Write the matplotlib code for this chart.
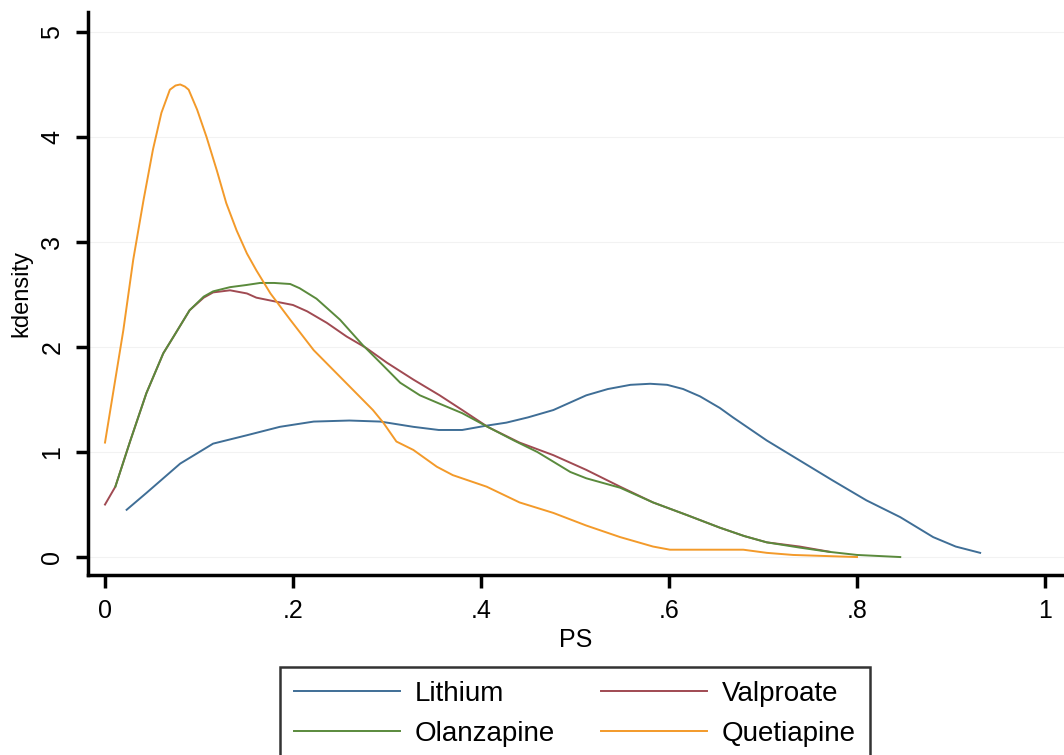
import matplotlib.pyplot as plt

plt.rcParams['font.family'] = ['Liberation Sans', 'DejaVu Sans']

# kernel density curves (PS, density)
lithium_ps = [0.023, 0.044, 0.08, 0.115, 0.151, 0.186, 0.222, 0.26, 0.293, 0.328, 0.355, 0.38,
              0.405, 0.427, 0.45, 0.477, 0.512, 0.535, 0.559, 0.58, 0.598, 0.615, 0.633, 0.654,
              0.668, 0.704, 0.739, 0.774, 0.81, 0.846, 0.881, 0.905, 0.931]
lithium_d = [0.45, 0.61, 0.89, 1.08, 1.16, 1.24, 1.29, 1.30, 1.29, 1.24, 1.21, 1.21,
             1.25, 1.28, 1.33, 1.40, 1.54, 1.60, 1.64, 1.65, 1.64, 1.60, 1.53, 1.42,
             1.33, 1.11, 0.92, 0.73, 0.54, 0.38, 0.19, 0.10, 0.04]

valproate_ps = [0.0, 0.011, 0.027, 0.044, 0.062, 0.073, 0.09, 0.105, 0.115, 0.133, 0.151,
                0.161, 0.183, 0.2, 0.215, 0.236, 0.257, 0.278, 0.3, 0.328, 0.356, 0.38,
                0.407, 0.441, 0.477, 0.512, 0.548, 0.583, 0.619, 0.654, 0.68, 0.704,
                0.739, 0.771]
valproate_d = [0.50, 0.67, 1.11, 1.56, 1.94, 2.10, 2.35, 2.47, 2.52, 2.54, 2.51,
               2.47, 2.43, 2.40, 2.34, 2.23, 2.10, 1.99, 1.85, 1.69, 1.54, 1.40,
               1.24, 1.09, 0.97, 0.83, 0.67, 0.52, 0.40, 0.28, 0.20, 0.14,
               0.10, 0.05]

olanzapine_ps = [0.011, 0.027, 0.044, 0.062, 0.073, 0.09, 0.105, 0.115, 0.133, 0.15, 0.165,
                 0.18, 0.197, 0.207, 0.225, 0.25, 0.274, 0.293, 0.314, 0.335, 0.356, 0.38,
                 0.407, 0.435, 0.46, 0.495, 0.512, 0.548, 0.583, 0.619, 0.654, 0.68, 0.704,
                 0.739, 0.77, 0.8, 0.846]
olanzapine_d = [0.67, 1.11, 1.56, 1.94, 2.10, 2.35, 2.48, 2.53, 2.57, 2.59, 2.61,
                2.61, 2.60, 2.56, 2.46, 2.26, 2.02, 1.85, 1.66, 1.54, 1.46, 1.37,
                1.24, 1.11, 1.00, 0.81, 0.75, 0.66, 0.52, 0.40, 0.28, 0.20, 0.14,
                0.09, 0.05, 0.02, 0.0]

quetiapine_ps = [0.0, 0.0195, 0.030, 0.041, 0.051, 0.060, 0.069, 0.075, 0.080, 0.085, 0.089,
                 0.098, 0.108, 0.119, 0.129, 0.140, 0.151, 0.161, 0.176, 0.197, 0.222,
                 0.243, 0.264, 0.285, 0.296, 0.31, 0.328, 0.353, 0.37, 0.406, 0.441, 0.477,
                 0.512, 0.548, 0.583, 0.601, 0.654, 0.679, 0.704, 0.732, 0.8]
quetiapine_d = [1.09, 2.16, 2.83, 3.40, 3.88, 4.23, 4.45, 4.49, 4.50, 4.48, 4.45,
                4.26, 4.00, 3.68, 3.37, 3.11, 2.89, 2.73, 2.51, 2.26, 1.97,
                1.78, 1.59, 1.40, 1.28, 1.10, 1.02, 0.86, 0.78, 0.67, 0.52, 0.42,
                0.30, 0.19, 0.10, 0.07, 0.07, 0.07, 0.04, 0.02, 0.0]

x_ticks = [0, 0.2, 0.4, 0.6, 0.8, 1.0]
x_labels = ['0', '.2', '.4', '.6', '.8', '1']
y_ticks = [0, 1, 2, 3, 4, 5]

fig = plt.figure(figsize=(10.64, 7.55), dpi=100)
ax = fig.add_axes([0.0827, 0.2384, 0.9173, 0.7457])

l1, = ax.plot(lithium_ps, lithium_d, color='#3f6e96', lw=1.4, label='Lithium')
l2, = ax.plot(valproate_ps, valproate_d, color='#a04a52', lw=1.4, label='Valproate')
l3, = ax.plot(olanzapine_ps, olanzapine_d, color='#5a8a3c', lw=1.4, label='Olanzapine')
l4, = ax.plot(quetiapine_ps, quetiapine_d, color='#f39a2a', lw=1.4, label='Quetiapine')

ax.set_xlim(-0.0181, 1.0202)
ax.set_ylim(-0.171, 5.19)
ax.set_xticks(x_ticks)
ax.set_xticklabels(x_labels)
ax.set_yticks(y_ticks)
ax.tick_params(axis='both', direction='out', length=9, width=2.5, labelsize=18, pad=8)
plt.setp(ax.get_yticklabels(), rotation=90, va='center')
ax.grid(axis='y', color='#f2f2f2', lw=0.8)
ax.set_axisbelow(True)

for s in ['top', 'right']:
    ax.spines[s].set_visible(False)
for s in ['left', 'bottom']:
    ax.spines[s].set_linewidth(2.5)

ax.set_xlabel('PS', fontsize=18, labelpad=4)
ax.set_ylabel('kdensity', fontsize=17, labelpad=6)

leg = fig.legend(handles=[l1, l3, l2, l4], loc='upper center', ncol=2,
                 bbox_to_anchor=(575 / 1064, 1 - 667 / 755), borderaxespad=0,
                 fontsize=20, frameon=True, fancybox=False, edgecolor='black',
                 handlelength=3.8, handletextpad=0.55, columnspacing=1.65,
                 borderpad=0.5, labelspacing=0.5)
leg.get_frame().set_linewidth(1.8)

fig.savefig('out.png', dpi=100)
